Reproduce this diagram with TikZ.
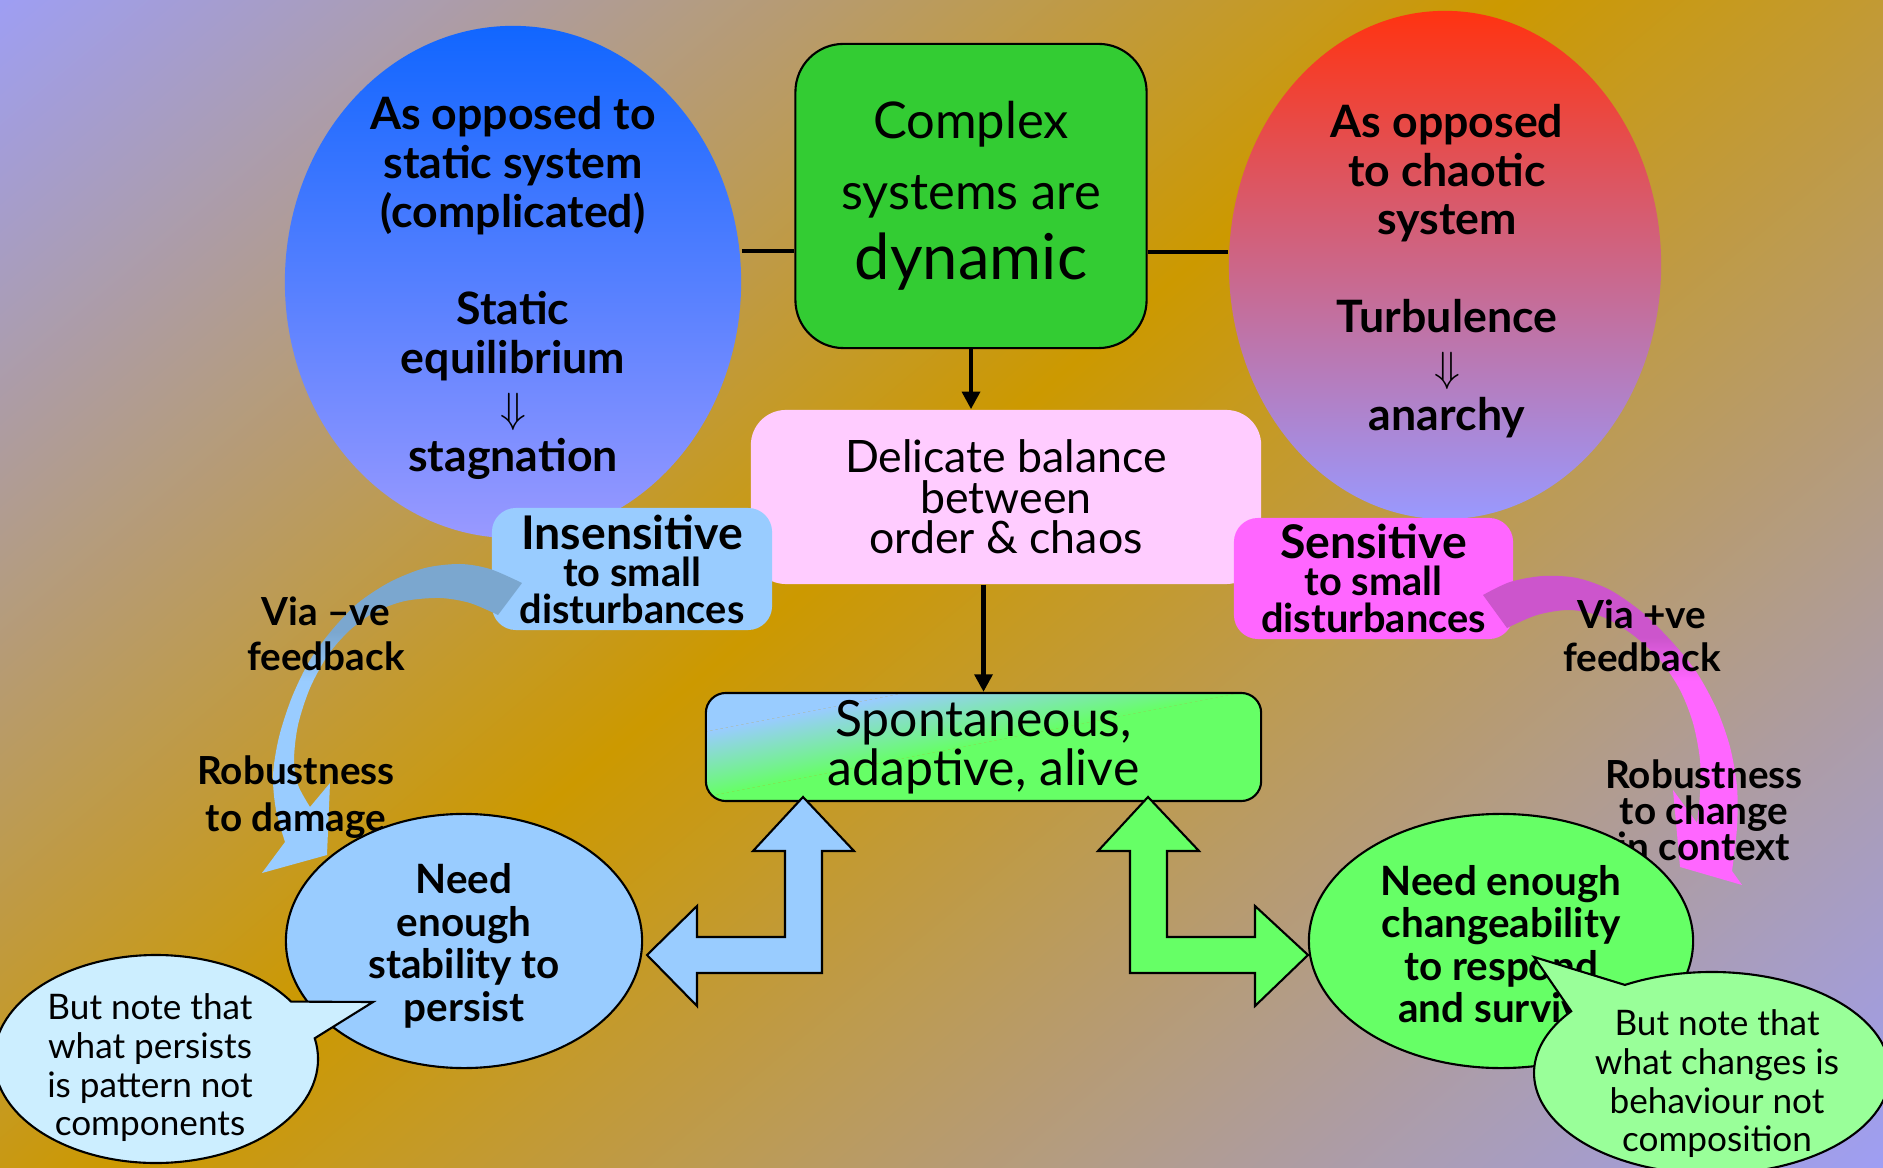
\documentclass[tikz,border=0pt]{standalone}
\usepackage{fontspec}
\setmainfont{Lato}
\usetikzlibrary{shapes.geometric,arrows.meta,positioning,calc}

\definecolor{lav}{HTML}{9E9EF4}
\definecolor{gold}{HTML}{CC9900}
\definecolor{statictop}{HTML}{1166FF}
\definecolor{ellbot}{HTML}{9999FF}
\definecolor{chaostop}{HTML}{FF3311}
\definecolor{chaosmid}{HTML}{DD66AA}
\definecolor{dyngreen}{HTML}{33CC33}
\definecolor{balpink}{HTML}{FFCCFF}
\definecolor{skyblue}{HTML}{99CCFF}
\definecolor{brightmag}{HTML}{FF66FF}
\definecolor{limegreen}{HTML}{66FF66}
\definecolor{palesky}{HTML}{CCEEFF}
\definecolor{palelime}{HTML}{99FF99}
\definecolor{steelarc}{HTML}{7BA7CF}
\definecolor{plumarc}{HTML}{CC55CC}

\pgfdeclareverticalshading{bgband}{100bp}{color(0bp)=(lav); color(25bp)=(lav); color(52bp)=(gold); color(75bp)=(lav); color(100bp)=(lav)}
\pgfdeclareverticalshading{negarc}{100bp}{color(0bp)=(skyblue); color(56bp)=(skyblue); color(64bp)=(steelarc); color(100bp)=(steelarc)}
\pgfdeclareverticalshading{posarc}{100bp}{color(0bp)=(brightmag); color(58bp)=(brightmag); color(65bp)=(plumarc); color(100bp)=(plumarc)}

\tikzset{
  conn/.style={line width=1.3pt, -{Triangle[length=5pt,width=5pt]}},
  link/.style={line width=1.3pt},
  elbow/.style={draw=black, line width=0.6pt, line join=miter},
  bubble/.style={draw=black, line width=0.6pt},
  plain/.style={align=center, inner sep=0pt},
  boldlbl/.style={plain, font=\fontsize{11}{#1}\selectfont\bfseries},
  elltxt/.style={plain, font=\fontsize{12.7}{13.9}\selectfont\bfseries},
  needtxt/.style={plain, font=\fontsize{11.5}{12.1}\selectfont\bfseries},
  notetxt/.style={plain, font=\fontsize{10}{11}\selectfont},
}

\begin{document}
\begin{tikzpicture}[x=0.01cm, y=-0.01cm]
    % Background
    \useasboundingbox (0,0) rectangle (1883,1168);
    \clip (0,0) rectangle (1883,1168);
    \begin{scope}[transform canvas={shift={(925,490)}, rotate=40}]
        \shade[shading=bgband] (-1700,-971) rectangle (1700,1136);
    \end{scope}

    % Static and chaotic ellipses
    \node[ellipse, inner sep=0pt, minimum width=4.56cm, minimum height=5.12cm, top color=statictop, bottom color=ellbot] (static) at (513,282) {};
    \node[elltxt] (statictxt) at (513,288)
        {As opposed to\\static system\\(complicated)\\[13.9pt]Static\\equilibrium\\$\Downarrow$\\stagnation};
    \node[ellipse, inner sep=0pt, minimum width=4.32cm, minimum height=5.08cm, top color=chaostop, middle color=chaosmid, bottom color=ellbot] (chaos) at (1445,265) {};
    \node[elltxt] (chaostxt) at (1447,271)
        {As opposed\\to chaotic\\system\\[13.9pt]Turbulence\\$\Downarrow$\\anarchy};

    % Central box
    \node[plain, draw, line width=0.6pt, rounded corners=0.48cm, fill=dyngreen, minimum width=3.51cm, minimum height=3.04cm,
          font=\fontsize{14.4}{20}\selectfont] (dyn) at (971,196)
        {Complex\\systems are\\{\fontsize{18}{20}\selectfont dynamic}};

    \coordinate (lnleft) at (0,251);
    \coordinate (lnright) at (0,252);
    \draw[link] (static.east |- lnleft) -- (dyn.west |- lnleft);
    \draw[link] (dyn.east |- lnright) -- (chaos.west |- lnright);

    % Balance box
    \node[plain, fill=balpink, rounded corners=0.35cm, minimum width=5.1cm, minimum height=1.74cm,
          font=\fontsize{12.7}{11.5}\selectfont] (bal) at (1006,497)
        {Delicate balance\\between\\order \& chaos};

    % Sensitivity boxes
    \node[plain, fill=skyblue, rounded corners=0.24cm, minimum width=2.8cm, minimum height=1.22cm,
          font=\fontsize{11.3}{10.5}\selectfont\bfseries] (insens) at (632,569)
        {{\fontsize{13.2}{10.5}\selectfont Insensitive}\\to small\\disturbances};
    \node[plain, fill=brightmag, rounded corners=0.24cm, minimum width=2.79cm, minimum height=1.21cm,
          font=\fontsize{11.3}{10.5}\selectfont\bfseries] (sens) at (1373.5,578.5)
        {{\fontsize{13.2}{10.5}\selectfont Sensitive}\\to small\\disturbances};

    % Result box
    \begin{scope}
        \clip[rounded corners=0.2cm] (706,693) rectangle (1261,801);
        \begin{scope}[transform canvas={shift={(856,735)}, rotate=11}]
            \fill[skyblue] (-900,-400) rectangle (900,-32);
            \fill[limegreen] (-900,32) rectangle (900,400);
            \shade[top color=skyblue, bottom color=limegreen] (-900,-32) rectangle (900,32);
        \end{scope}
    \end{scope}
    \node[plain, draw, line width=0.6pt, rounded corners=0.2cm, minimum width=5.55cm, minimum height=1.08cm,
          font=\fontsize{14.2}{12.2}\selectfont] (spont) at (983.5,747)
        {Spontaneous,\\adaptive, alive};

    \draw[conn] (dyn.south) -- (dyn.south |- bal.north);
    \draw[conn] (bal.south -| spont.north) -- (spont.north);

    % Feedback arcs
    \shade[shading=negarc] plot[smooth] coordinates {(522,583) (490,569) (460,564) (425,568) (390,582) (358,603) (332,630)
        (310,660) (292,697) (279,737) (273,775) (276,810) (285,842)}
        -- (262,873) -- (327,855) -- (330,783)
        -- plot[smooth] coordinates {(310,807) (298,785) (294,760) (298,725) (310,688) (328,655) (350,630) (375,612)
        (405,601) (440,598) (470,603) (498,615)} -- cycle;
    \shade[shading=posarc] plot[smooth] coordinates {(1483,595) (1510,582) (1543,576) (1577,578) (1610,590) (1643,613)
        (1673,643) (1697,673) (1717,710) (1730,747) (1737,787) (1737,827) (1732,871)}
        -- (1742,885) -- (1680,867) -- (1673,790)
        -- plot[smooth] coordinates {(1697,823) (1700,793) (1700,760) (1693,723) (1680,690) (1660,660) (1633,635)
        (1603,617) (1570,610) (1537,615) (1507,628)} -- cycle;

    \node[boldlbl=12.8pt] (vianeg) at (326,634) {Via –ve\\feedback};
    \node[boldlbl=13.4pt] (robdam) at (296,797) {Robustness\\to damage};
    \node[boldlbl=12.3pt] (viapos) at (1642,636) {Via +ve\\feedback};
    \node[boldlbl=10.2pt] (robctx) at (1704,810) {Robustness\\to change\\in context};

    % Elbow arrows
    \draw[elbow, fill=skyblue] (803,797) -- (854,851) -- (822,851) -- (822,973) -- (697,973) -- (697,1006)
        -- (647,955) -- (697,906) -- (697,937) -- (785,937) -- (785,851) -- (753,851) -- cycle;
    \draw[elbow, fill=limegreen] (1148,797) -- (1199,851) -- (1167,851) -- (1167,937) -- (1255,937) -- (1255,906)
        -- (1308,955) -- (1255,1006) -- (1255,973) -- (1130,973) -- (1130,851) -- (1098,851) -- cycle;

    % Need ellipses
    \node[ellipse, inner sep=0pt, draw, line width=0.6pt, fill=skyblue, minimum width=3.56cm, minimum height=2.54cm] (stab) at (464,941) {};
    \node[needtxt] (stabtxt) at (464,946) {Need\\enough\\stability to\\persist};
    \node[ellipse, inner sep=0pt, draw, line width=0.6pt, fill=limegreen, minimum width=3.84cm, minimum height=2.54cm] (chg) at (1501,941) {};
    \node[needtxt] (chgtxt) at (1501,944) {Need enough\\changeability\\to respond\\and survive};

    % Speech bubbles
    \coordinate (lbub) at (156,1059);
    \draw[bubble, fill=palesky] ($(lbub)+(-11.5:162 and 104)$) arc[start angle=-11.5, end angle=326.5, x radius=162, y radius=104]
        -- (373,1002) -- cycle;
    \node[notetxt] (lnote) at (150,1068) {But note that\\what persists\\is pattern not\\components};

    \coordinate (rbub) at (1712,1073);
    \draw[bubble, fill=palelime] ($(rbub)+(-119.3:178 and 101)$) arc[start angle=-119.3, end angle=217.7, x radius=178, y radius=101]
        -- (1534,957) -- cycle;
    \node[notetxt] (rnote) at (1717,1084) {But note that\\what changes is\\behaviour not\\composition};
\end{tikzpicture}
\end{document}
